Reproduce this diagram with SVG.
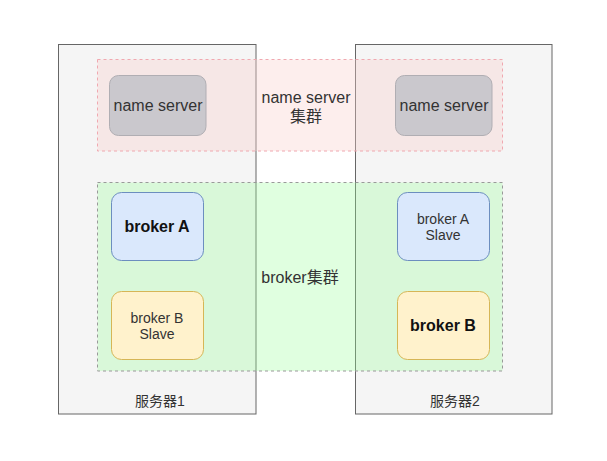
<svg xmlns="http://www.w3.org/2000/svg" width="607" height="461" viewBox="0 0 607 461">
<style>
text{font-family:"Liberation Sans","Noto Sans CJK SC",sans-serif;text-anchor:middle;fill:#333}
.srv{fill:#f5f5f5;stroke:#666;stroke-width:1}
.ns{fill:#cac8cd;stroke:#b0aeb3;stroke-width:1}
.blue{fill:#dae8fc;stroke:#6c8ebf}
.yel{fill:#fff2cc;stroke:#d6b656}
.b{font-weight:bold;fill:#111;font-size:16px}
.t14{font-size:16px}
.t12{font-size:14px}
</style>
<rect width="607" height="461" fill="#fff"/>
<g id="server1"><rect class="srv" x="58.5" y="44.5" width="197.5" height="369.5"/><text class="t12" x="160" y="406">服务器1</text></g>
<g id="server2"><rect class="srv" x="355.5" y="44.5" width="196.5" height="369.5"/><text class="t12" x="455" y="406">服务器2</text></g>
<g id="ns-cluster"><rect x="97.5" y="59.5" width="405" height="91.5" fill="#f8cecc" fill-opacity="0.35" stroke="#f0a8b0" stroke-dasharray="3 3"/><text class="t14" x="306" y="102.5">name server</text><text class="t14" x="306" y="121.5">集群</text></g>
<g id="broker-cluster"><rect x="97.5" y="182.5" width="405" height="188.5" fill="#99ff99" fill-opacity="0.3" stroke="#999" stroke-dasharray="3 3"/><text class="t14" x="300" y="283">broker集群</text></g>
<g id="ns1"><rect class="ns" x="109.5" y="75.5" width="96.5" height="60" rx="9"/><text class="t14" x="158" y="111">name server</text></g>
<g id="ns2"><rect class="ns" x="395.5" y="75.5" width="96.5" height="60" rx="9"/><text class="t14" x="444" y="111">name server</text></g>
<g id="brokerA"><rect class="blue" x="111.5" y="192.5" width="92" height="68" rx="10"/><text class="b" x="157" y="231.5">broker A</text></g>
<g id="brokerBSlave"><rect class="yel" x="111.5" y="291.5" width="92" height="68" rx="10"/><text class="t12" x="157" y="323">broker B</text><text class="t12" x="157" y="339">Slave</text></g>
<g id="brokerASlave"><rect class="blue" x="397.5" y="192.5" width="92" height="68" rx="10"/><text class="t12" x="443" y="224">broker A</text><text class="t12" x="443" y="240">Slave</text></g>
<g id="brokerB"><rect class="yel" x="397.5" y="291.5" width="92" height="68" rx="10"/><text class="b" x="443" y="330.5">broker B</text></g>
<g id="connectors"></g>
</svg>
